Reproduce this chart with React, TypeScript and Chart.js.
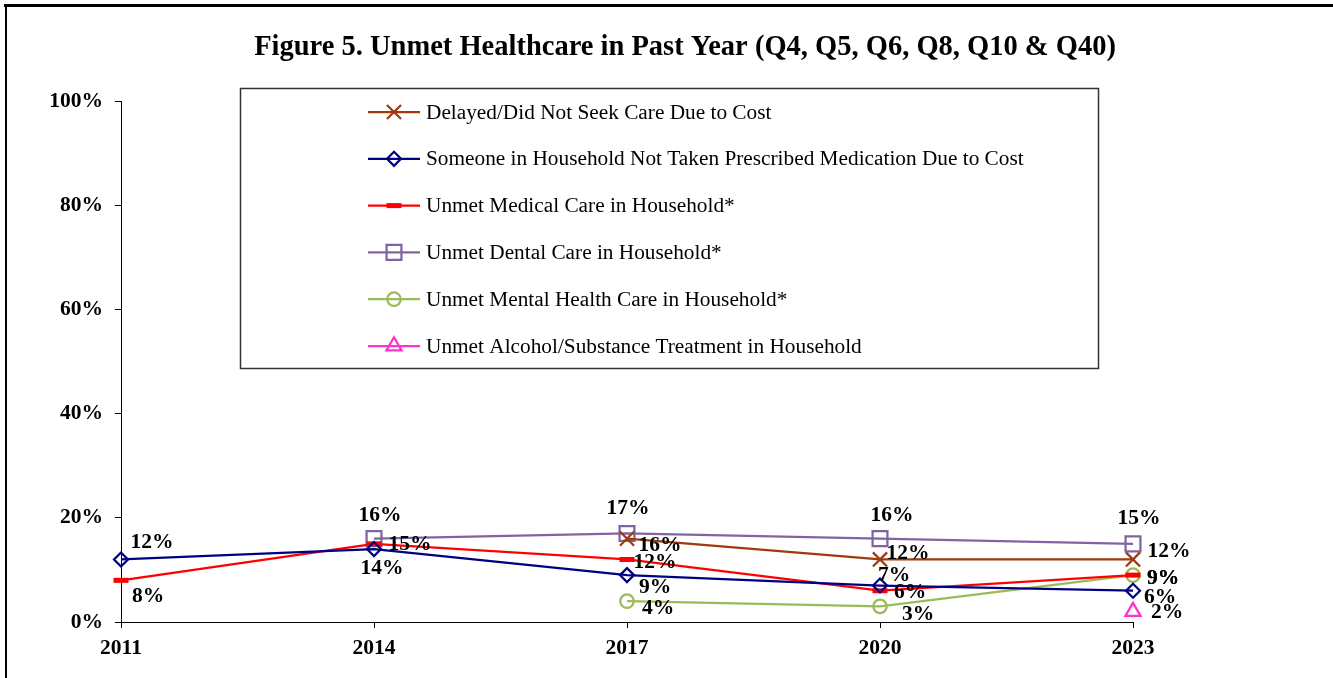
import React, { useEffect, useRef } from "react";
import { Chart, registerables } from "chart.js";
import { drawPoint } from "chart.js/helpers";

Chart.register(...registerables);

// ---------- data ----------
const YEARS = ["2011", "2014", "2017", "2020", "2023"];
const DELAYED_COST = [null, null, 16, 12, 12];
const MEDICATION_COST = [12, 14, 9, 7, 6];
const UNMET_MEDICAL = [8, 15, 12, 6, 9];
const UNMET_DENTAL = [null, 16, 17, 16, 15];
const UNMET_MENTAL = [null, null, 4, 3, 9];
const UNMET_ALCOHOL = [null, null, null, null, 2];
const Y_TICKS = [0, 20, 40, 60, 80, 100];

const TITLE = "Figure 5. Unmet Healthcare in Past Year (Q4, Q5, Q6, Q8, Q10 & Q40)";
const SERIES_NAMES = [
  "Delayed/Did Not Seek Care Due to Cost",
  "Someone in Household Not Taken Prescribed Medication Due to Cost",
  "Unmet Medical Care in Household*",
  "Unmet Dental Care in Household*",
  "Unmet Mental Health Care in Household*",
  "Unmet Alcohol/Substance Treatment in Household",
];

// ---------- styles ----------
const SERIF = "'Liberation Serif', 'Times New Roman', serif";
const STYLES = [
  { color: "#9E3A0C", pointStyle: "crossRot", radius: 10, pw: 2.25, lw: 2.25 },
  { color: "#000080", pointStyle: "rectRot", radius: 7, pw: 2.25, lw: 2.25 },
  { color: "#FF0000", pointStyle: "line", radius: 7.5, pw: 5, lw: 2.25 },
  { color: "#8064A2", pointStyle: "rect", radius: 10.5, pw: 2.25, lw: 2.25 },
  { color: "#9BBB59", pointStyle: "circle", radius: 6.75, pw: 2.25, lw: 2.25 },
  { color: "#FF33CC", pointStyle: "triangle", radius: 8.75, pw: 2.25, lw: 2.25 },
];
// label offsets [dx, dy] relative to each point (style only)
const LABEL_OFFSETS = [
  [null, null, [33, 7], [28, -6], [36, -8]],
  [[31, -17], [8, 19], [28, 12], [14, -10], [27, 7]],
  [[27, 16], [36, 1], [28, 3], [30, 2], [30, 3]],
  [null, [6, -23], [1, -25], [12, -23], [6, -25]],
  [null, null, [31, 7], [38, 8], [30, 3]],
  [null, null, null, null, [34, 1]],
];

const SERIES = [DELAYED_COST, MEDICATION_COST, UNMET_MEDICAL, UNMET_DENTAL, UNMET_MENTAL, UNMET_ALCOHOL];

const decorPlugin = {
  id: "decor",
  afterDatasetsDraw(chart: any) {
    const ctx = chart.ctx;
    ctx.save();
    ctx.font = `bold 21.5px ${SERIF}`;
    ctx.fillStyle = "#000";
    ctx.textAlign = "center";
    ctx.textBaseline = "middle";
    chart.data.datasets.forEach((ds: any, di: number) => {
      const meta = chart.getDatasetMeta(di);
      meta.data.forEach((pt: any, i: number) => {
        const v = ds.data[i];
        const off = LABEL_OFFSETS[di][i];
        if (v == null || !off) return;
        ctx.fillText(`${v}%`, pt.x + off[0], pt.y + off[1]);
      });
    });
    ctx.restore();
  },
  afterDraw(chart: any) {
    const ctx = chart.ctx;
    ctx.save();
    // frame
    ctx.fillStyle = "#000";
    ctx.fillRect(4, 4, 1329, 3);
    ctx.fillRect(5, 4, 2, 674);
    // title
    ctx.font = `bold 28.5px ${SERIF}`;
    ctx.textAlign = "center";
    ctx.textBaseline = "middle";
    ctx.fillText(TITLE, 685, 48);
    // legend box
    ctx.fillStyle = "#fff";
    ctx.fillRect(240, 88, 858, 280);
    ctx.strokeStyle = "#333";
    ctx.lineWidth = 1.5;
    ctx.strokeRect(240.5, 88.5, 858, 280);
    const rowY0 = 112;
    const rowStep = 46.8;
    SERIES_NAMES.forEach((name, i) => {
      const st = STYLES[i];
      const y = rowY0 + i * rowStep;
      ctx.strokeStyle = st.color;
      ctx.lineWidth = st.lw;
      ctx.beginPath();
      ctx.moveTo(368, y);
      ctx.lineTo(420, y);
      ctx.stroke();
      ctx.fillStyle = "rgba(0,0,0,0)";
      ctx.lineWidth = st.pw;
      drawPoint(ctx, { pointStyle: st.pointStyle, radius: st.radius, rotation: 0, borderWidth: st.pw } as any, 394, y);
      ctx.fillStyle = "#000";
      ctx.font = `21.3px ${SERIF}`;
      ctx.textAlign = "left";
      ctx.textBaseline = "middle";
      ctx.fillText(name, 426, y + 1);
    });
    ctx.restore();
  },
};

export default function App() {
  const ref = useRef<HTMLCanvasElement | null>(null);
  useEffect(() => {
    if (!ref.current) return;
    const chart = new Chart(ref.current, {
      type: "line",
      data: {
        labels: YEARS,
        datasets: SERIES.map((d, i) => ({
          label: SERIES_NAMES[i],
          data: d as any,
          borderColor: STYLES[i].color,
          backgroundColor: "rgba(0,0,0,0)",
          borderWidth: STYLES[i].lw,
          pointStyle: STYLES[i].pointStyle as any,
          pointRadius: STYLES[i].radius,
          pointBorderWidth: STYLES[i].pw,
          pointBorderColor: STYLES[i].color,
          pointBackgroundColor: "rgba(0,0,0,0)",
          tension: 0,
          spanGaps: false,
          clip: false as any,
        })),
      },
      options: {
        animation: false,
        responsive: false,
        maintainAspectRatio: false,
        layout: { padding: { top: 101, right: 200, left: 0, bottom: 0 } },
        plugins: { legend: { display: false }, title: { display: false }, tooltip: { enabled: false } },
        scales: {
          x: {
            type: "category",
            offset: false,
            grid: { display: true, drawOnChartArea: false, drawTicks: true, tickLength: 6, color: "#000" },
            border: { color: "#000", width: 1 },
            ticks: { color: "#000", font: { family: SERIF, size: 21.5, weight: "bold" }, padding: 8, maxRotation: 0 },
            afterFit: (s: any) => { s.height = 56; },
          },
          y: {
            min: 0,
            max: 100,
            afterBuildTicks: (s: any) => { s.ticks = Y_TICKS.map((v) => ({ value: v })); },
            grid: { display: true, drawOnChartArea: false, drawTicks: true, tickLength: 6, color: "#000" },
            border: { color: "#000", width: 1 },
            ticks: { color: "#000", font: { family: SERIF, size: 21.5, weight: "bold" }, padding: 12, callback: (v: any) => `${v}%` },
            afterFit: (s: any) => { s.width = 121; },
          },
        },
      },
      plugins: [decorPlugin],
    });
    return () => chart.destroy();
  }, []);
  return (
    <div style={{ position: "fixed", left: 0, top: 0, width: 1333, height: 678, background: "#fff" }}>
      <canvas ref={ref} width={1333} height={678} style={{ width: 1333, height: 678, display: "block" }} />
    </div>
  );
}
